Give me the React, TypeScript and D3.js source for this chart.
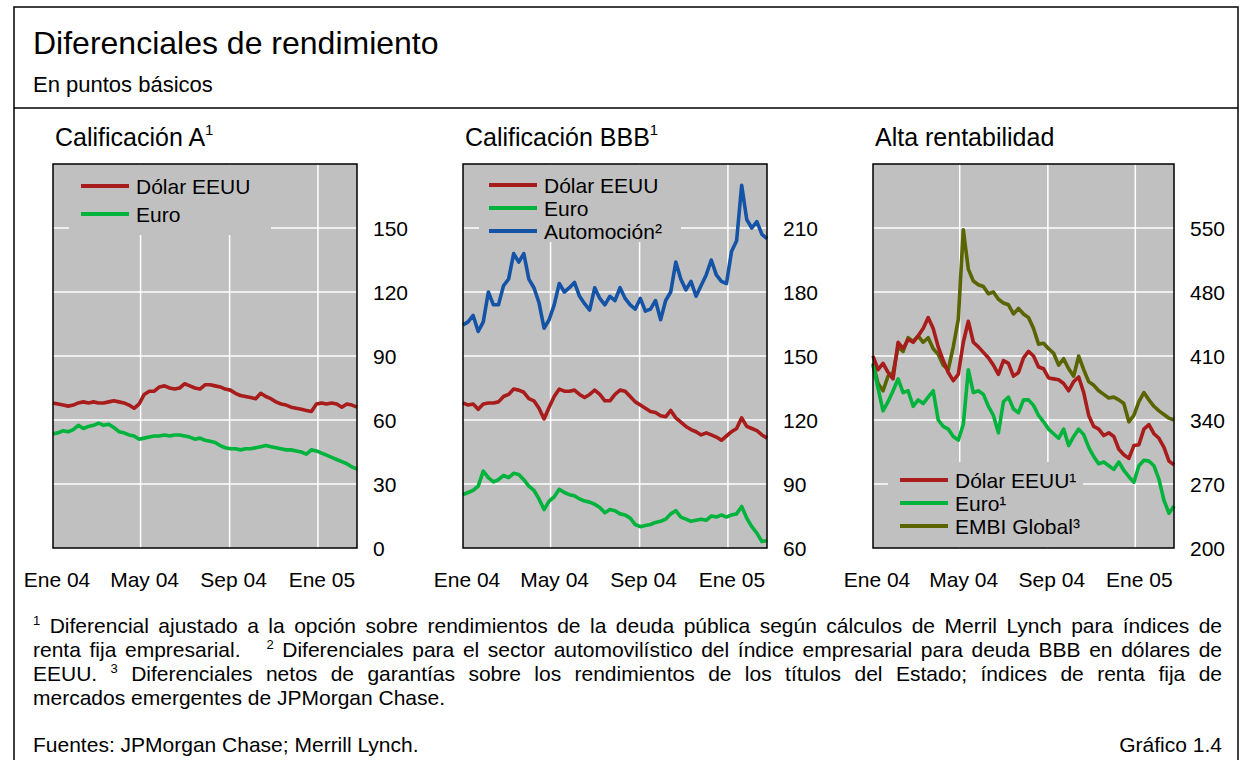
import React from 'react';
import * as d3 from 'd3';

// ---------- DATA ----------
const START = new Date(2004, 0, 1);
const END = new Date(2005, 1, 24);
// weekly observation dates (61 weeks)
const WEEKS: Date[] = d3.range(61).map((i) => d3.timeDay.offset(START, i * 7));

const MONTH_TICKS: Date[] = [new Date(2004, 0, 1), new Date(2004, 4, 1), new Date(2004, 8, 1), new Date(2005, 0, 1)];
const MONTH_LABELS: string[] = ['Ene 04', 'May 04', 'Sep 04', 'Ene 05'];

const A_TICKS = [0, 30, 60, 90, 120, 150];
const BBB_TICKS = [60, 90, 120, 150, 180, 210];
const HY_TICKS = [200, 270, 340, 410, 480, 550];

// Calificación A
const A_USD = [68, 67.5, 67, 66.5, 67, 68, 68.5, 68, 68.5, 68, 68, 68.5, 69, 68.5, 68, 67, 65.5, 67.5, 72, 73.5,
  73.5, 75.5, 76, 75, 74.5, 75, 77, 76, 75, 74.5, 76.5, 76.5, 76, 75.5, 74.5, 74, 72.5, 71.5, 71, 70.5,
  70, 72.5, 71, 70, 68.5, 67.5, 67, 66, 65.5, 65, 64.5, 64, 67.5, 68, 67.5, 68, 67.5, 66, 67.5, 67, 66];
const A_EUR = [53.5, 54, 55, 54.5, 55.5, 57.5, 56, 57, 57.5, 58.5, 57.5, 58, 56.5, 54.5, 54, 53, 52.5, 51, 51.5, 52,
  52.5, 52.5, 53, 52.5, 53, 53, 52.5, 52, 51, 51.5, 50.5, 50, 49.5, 48, 47, 46.5, 46.5, 46, 46.5, 46.5,
  47, 47.5, 48, 47.5, 47, 46.5, 46, 46, 45.5, 45, 44, 46, 45.5, 44.5, 43.5, 42.5, 41.5, 40.5, 39.5, 38, 37];

// Calificación BBB
const BBB_USD = [128, 127, 127.5, 125, 127.5, 128, 128, 128.5, 131, 132, 134.5, 134, 133, 130, 129, 125.5, 120.5, 126, 131, 134.5,
  133.5, 133.5, 134, 132, 130.5, 132, 134, 132, 129, 129, 132, 134, 133.5, 131, 128.5, 127, 125.5, 124, 123.5, 122,
  121.5, 124.5, 121, 119, 117, 115.5, 114.5, 113, 114, 113, 112, 110.5, 112.5, 114.5, 116, 121, 117, 116, 115, 113, 111.5];
const BBB_EUR = [85, 86, 87, 89, 96, 93, 91, 92, 94, 93, 95, 94.5, 92, 89, 87, 83, 78, 82, 84, 87.5,
  86, 85, 84.5, 83, 82, 81.5, 80.5, 79, 76.5, 78, 77.5, 76, 75.5, 74, 71, 70, 70.5, 71, 72, 72.5,
  73.5, 76, 77.5, 74.5, 73.5, 72.5, 73, 73.5, 73, 75, 74.5, 75.5, 74.5, 75.5, 76, 79.5, 74, 70, 67, 63, 63.5];
const BBB_AUTO = [164.5, 166, 169, 161.5, 166, 180, 174, 174, 183, 186, 198, 194, 198, 186, 182, 175, 163, 167, 174, 184,
  180, 182, 184.5, 178, 174.5, 171.5, 182, 177, 174, 178, 176, 182, 177, 174, 172, 177, 171, 172, 176, 167,
  176, 180, 194, 186, 181, 185, 178, 183, 188, 195, 188, 185, 184, 199, 204, 230, 214, 210, 213, 207, 205];

// Alta rentabilidad
const HY_USD = [410, 395, 402, 392, 385, 425, 418, 428, 425, 432, 440, 452, 440, 420, 405, 392, 383, 390, 425, 448,
  425, 420, 414, 408, 400, 390, 405, 402, 388, 392, 408, 415, 410, 398, 396, 386, 385, 384, 380, 372,
  382, 387, 370, 345, 333, 330, 323, 326, 322, 308, 302, 298, 312, 313, 330, 335, 325, 320, 310, 295, 291];
const HY_EUR = [400, 375, 350, 360, 372, 385, 370, 372, 355, 362, 358, 365, 372, 340, 333, 330, 322, 318, 335, 395,
  370, 372, 368, 355, 345, 326, 360, 365, 352, 348, 362, 362, 356, 345, 338, 330, 325, 320, 330, 312,
  322, 330, 324, 310, 300, 292, 294, 290, 286, 294, 285, 278, 272, 290, 296, 295, 290, 275, 252, 238, 246];
const HY_EMBI = [402, 380, 372, 388, 392, 420, 415, 430, 426, 432, 425, 430, 418, 412, 400, 395, 420, 450, 548, 505,
  492, 488, 486, 478, 480, 472, 468, 466, 456, 462, 456, 452, 440, 423, 424, 418, 413, 400, 407, 396,
  388, 410, 395, 382, 378, 372, 368, 364, 365, 362, 358, 338, 345, 360, 370, 362, 355, 350, 346, 342, 340];

// ---------- STYLE ----------
const FONT = '"Liberation Sans", Arial, Helvetica, sans-serif';
const RED = '#a81c1c';
const GREEN = '#00b33c';
const BLUE = '#1453a6';
const OLIVE = '#5a6400';
const BG = '#c0c0c0';

const PLOT_TOP = 164;
const PLOT_BOTTOM = 548;

let _ctx: CanvasRenderingContext2D | null = null;
function measure(text: string, size: number): number {
  if (!_ctx) _ctx = document.createElement('canvas').getContext('2d');
  if (!_ctx) return text.length * size * 0.5;
  _ctx.font = `${size}px ${FONT}`;
  return _ctx.measureText(text).width;
}

type Token = { t: string; sup?: boolean; gap?: number };

const FOOT_SIZE = 21;
const SUP_SIZE = 13;

const FOOT_LINES: { tokens: Token[]; justify: boolean }[] = [
  {
    justify: true,
    tokens: [{ t: '1', sup: true }, ...'Diferencial ajustado a la opción sobre rendimientos de la deuda pública según cálculos de Merril Lynch para índices de'.split(' ').map((t) => ({ t }))],
  },
  {
    justify: true,
    tokens: [...'renta fija empresarial.'.split(' ').map((t) => ({ t })), { t: '2', sup: true, gap: 3 }, ...'Diferenciales para el sector automovilístico del índice empresarial para deuda BBB en dólares de'.split(' ').map((t) => ({ t }))],
  },
  {
    justify: true,
    tokens: [{ t: 'EEUU.' }, { t: '3', sup: true }, ...'Diferenciales netos de garantías sobre los rendimientos de los títulos del Estado; índices de renta fija de'.split(' ').map((t) => ({ t }))],
  },
  {
    justify: false,
    tokens: 'mercados emergentes de JPMorgan Chase.'.split(' ').map((t) => ({ t })),
  },
];

function FootLine({ tokens, justify, y }: { tokens: Token[]; justify: boolean; y: number }) {
  const x0 = 33;
  const x1 = 1222;
  const widths = tokens.map((tk) => measure(tk.t, tk.sup ? SUP_SIZE : FOOT_SIZE));
  const total = d3.sum(widths);
  const weights = tokens.map((tk, i) => (i === 0 ? 0 : tk.gap ?? 1));
  const wsum = d3.sum(weights);
  const space = measure(' ', FOOT_SIZE);
  const unit = justify ? (x1 - x0 - total) / wsum : space;
  let x = x0;
  const items = tokens.map((tk, i) => {
    x += weights[i] * unit;
    const el = (
      <text key={i} x={x} y={tk.sup ? y - 8 : y} fontSize={tk.sup ? SUP_SIZE : FOOT_SIZE}>
        {tk.t}
      </text>
    );
    x += widths[i];
    return el;
  });
  return <g>{items}</g>;
}

type Series = { values: number[]; color: string; label: string };
type Panel = {
  title: string;
  titleSup?: string;
  x0: number;
  w: number;
  domain: [number, number];
  ticks: number[];
  series: Series[];
  legend: { rx: number; ry: number; rw: number; rh: number; sx: number; rows: number[] };
};

const PANELS: Panel[] = [
  {
    title: 'Calificación A',
    titleSup: '1',
    x0: 53,
    w: 304,
    domain: [0, 180],
    ticks: A_TICKS,
    series: [
      { values: A_USD, color: RED, label: 'Dólar EEUU' },
      { values: A_EUR, color: GREEN, label: 'Euro' },
    ],
    legend: { rx: 69, ry: 165, rw: 202, rh: 70, sx: 81, rows: [186, 214] },
  },
  {
    title: 'Calificación BBB',
    titleSup: '1',
    x0: 463,
    w: 304,
    domain: [60, 240],
    ticks: BBB_TICKS,
    series: [
      { values: BBB_AUTO, color: BLUE, label: 'Automoción²' },
      { values: BBB_USD, color: RED, label: 'Dólar EEUU' },
      { values: BBB_EUR, color: GREEN, label: 'Euro' },
    ],
    legend: { rx: 479, ry: 165, rw: 202, rh: 77, sx: 489, rows: [185, 208, 231] },
  },
  {
    title: 'Alta rentabilidad',
    x0: 873,
    w: 301,
    domain: [200, 620],
    ticks: HY_TICKS,
    series: [
      { values: HY_EMBI, color: OLIVE, label: 'EMBI Global³' },
      { values: HY_USD, color: RED, label: 'Dólar EEUU¹' },
      { values: HY_EUR, color: GREEN, label: 'Euro¹' },
    ],
    legend: { rx: 888, ry: 462, rw: 195, rh: 85, sx: 900, rows: [480, 503, 526] },
  },
];

// legend order (top to bottom) for each panel
const LEGEND_ORDER: number[][] = [
  [0, 1],
  [1, 2, 0],
  [1, 2, 0],
];

function ChartPanel({ p, idx }: { p: Panel; idx: number }) {
  const x = d3.scaleTime().domain([START, END]).range([p.x0, p.x0 + p.w]);
  const y = d3.scaleLinear().domain(p.domain).range([PLOT_BOTTOM, PLOT_TOP]);
  const line = d3
    .line<number>()
    .x((_, i) => x(WEEKS[i]))
    .y((d) => y(d));
  const L = p.legend;
  return (
    <g>
      <text x={p.x0 + 2} y={146} fontSize={25}>
        {p.title}
        {p.titleSup && (
          <tspan fontSize={15} dy={-11}>
            {p.titleSup}
          </tspan>
        )}
      </text>
      <rect x={p.x0} y={PLOT_TOP} width={p.w} height={PLOT_BOTTOM - PLOT_TOP} fill={BG} />
      {p.ticks
        .filter((t) => t !== p.domain[0])
        .map((t) => (
          <line key={'h' + t} x1={p.x0} x2={p.x0 + p.w} y1={y(t)} y2={y(t)} stroke="#fff" strokeWidth={1.5} />
        ))}
      {MONTH_TICKS.slice(1).map((d, i) => (
        <line key={'v' + i} x1={x(d)} x2={x(d)} y1={PLOT_TOP} y2={PLOT_BOTTOM} stroke="#fff" strokeWidth={1.5} />
      ))}
      <rect x={L.rx} y={L.ry} width={L.rw} height={L.rh} fill={BG} />
      {p.series.map((s, i) => (
        <path key={i} d={line(s.values) || ''} fill="none" stroke={s.color} strokeWidth={3.6} strokeLinejoin="round" />
      ))}
      {LEGEND_ORDER[idx].map((si, r) => {
        const s = p.series[si];
        return (
          <g key={'l' + r}>
            <line x1={L.sx} x2={L.sx + 48} y1={L.rows[r]} y2={L.rows[r]} stroke={s.color} strokeWidth={4} />
            <text x={L.sx + 55} y={L.rows[r] + 7.5} fontSize={21}>
              {s.label}
            </text>
          </g>
        );
      })}
      <rect x={p.x0} y={PLOT_TOP} width={p.w} height={PLOT_BOTTOM - PLOT_TOP} fill="none" stroke="#000" strokeWidth={1.5} />
      {p.ticks.map((t) => (
        <text key={'t' + t} x={p.x0 + p.w + 16} y={y(t) + 7.5} fontSize={21}>
          {t}
        </text>
      ))}
      {MONTH_TICKS.map((d, i) => (
        <text key={'m' + i} x={x(d) + 4} y={587} fontSize={21} textAnchor="middle">
          {MONTH_LABELS[i]}
        </text>
      ))}
    </g>
  );
}

export default function App() {
  return (
    <svg
      width={1241}
      height={760}
      style={{ position: 'absolute', left: 0, top: 0, background: '#fff' }}
      fontFamily={FONT}
      fill="#000"
    >
      <rect x={0} y={0} width={1241} height={760} fill="#fff" />
      <rect x={14} y={7} width={1224} height={780} fill="none" stroke="#000" strokeWidth={1.5} />
      <line x1={14} x2={1238} y1={108} y2={108} stroke="#000" strokeWidth={1.5} />
      <text x={33} y={54} fontSize={32}>
        Diferenciales de rendimiento
      </text>
      <text x={33} y={92} fontSize={22}>
        En puntos básicos
      </text>
      {PANELS.map((p, i) => (
        <ChartPanel key={i} p={p} idx={i} />
      ))}
      {FOOT_LINES.map((l, i) => (
        <FootLine key={i} tokens={l.tokens} justify={l.justify} y={633 + i * 24} />
      ))}
      <text x={33} y={752} fontSize={21}>
        Fuentes: JPMorgan Chase; Merrill Lynch.
      </text>
      <text x={1222} y={752} fontSize={21} textAnchor="end">
        Gráfico 1.4
      </text>
    </svg>
  );
}
